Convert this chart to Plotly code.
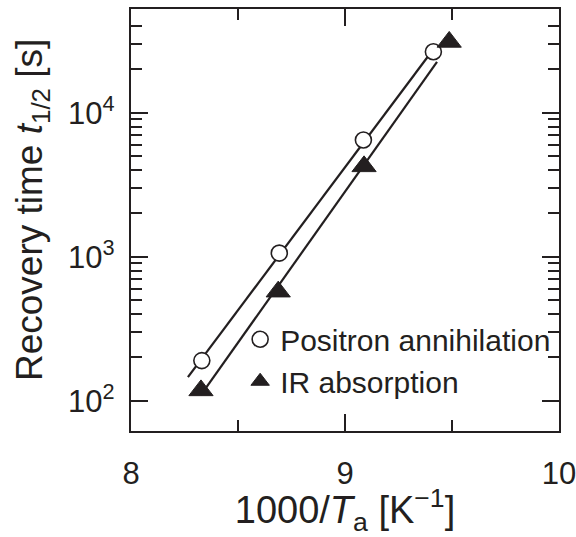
import numpy as np
import plotly.graph_objects as go

# Recovery times after annealing, plotted against inverse annealing temperature
x_positron = [8.331, 8.693, 9.086, 9.413]
t_positron = [190, 1060, 6460, 26500]

x_ir = [8.327, 8.688, 9.089, 9.487]
t_ir = [118, 572, 4240, 31000]

# x-extent of each Arrhenius fit line
fit_range_positron = [8.266, 9.413]
fit_range_ir = [8.327, 9.43]

x_major = [8, 9, 10]
x_minor = [8.5, 9.5]
y_major = [100, 1000, 10000]
y_minor = [m * d for d in (100, 1000) for m in range(2, 10)] + [20000, 30000, 40000]

INK = "#231f20"
FONT = "Liberation Sans, Arial, sans-serif"


def fit_line(xs, ts, xr):
    k, b = np.polyfit(xs, np.log10(ts), 1)
    xf = np.array(xr)
    return xf, 10 ** (k * xf + b)


fig = go.Figure()

for xs, ts, xr in ((x_positron, t_positron, fit_range_positron),
                   (x_ir, t_ir, fit_range_ir)):
    xf, tf = fit_line(xs, ts, xr)
    fig.add_trace(go.Scatter(x=xf, y=tf, mode="lines", showlegend=False,
                             line=dict(color=INK, width=2.2), hoverinfo="skip"))

fig.add_trace(go.Scatter(
    x=x_positron, y=t_positron, mode="markers", name="Positron annihilation",
    marker=dict(symbol="circle", size=16, color="white",
                line=dict(color=INK, width=1.6))))
fig.add_trace(go.Scatter(
    x=x_ir, y=t_ir, mode="markers", name="IR absorption",
    marker=dict(symbol="triangle-up", size=21, color=INK,
                line=dict(color=INK, width=1))))

axis_common = dict(
    showline=True, linecolor=INK, linewidth=2.4, mirror="ticks",
    ticks="inside", tickcolor=INK, tickwidth=1.8, ticklen=17,
    showgrid=False, zeroline=False, automargin=False,
    ticklabeloverflow="allow",
    tickfont=dict(family=FONT, size=31, color=INK),
)

fig.update_xaxes(
    **axis_common, type="linear", range=[8, 10],
    tickmode="array", tickvals=x_major, ticktext=[str(v) for v in x_major],
    ticklabelstandoff=14,
    minor=dict(tickmode="array", tickvals=x_minor, ticks="inside",
               ticklen=11, tickwidth=1.8, tickcolor=INK),
    title=dict(text="1000/<i>T</i><sub>a</sub> [K<sup>\u22121</sup>]",
               font=dict(family=FONT, size=38, color=INK), standoff=27),
)
fig.update_yaxes(
    **axis_common, type="log", range=[1.790, 4.720],
    tickmode="array", tickvals=y_major,
    ticktext=["10<sup>2</sup>", "10<sup>3</sup>", "10<sup>4</sup>"],
    ticklabelstandoff=8,
    minor=dict(tickmode="array", tickvals=y_minor, ticks="inside",
               ticklen=11, tickwidth=1.8, tickcolor=INK),
)

# y-axis title placed as a rotated annotation
fig.add_annotation(
    text="Recovery time <i>t</i><sub>1/2</sub> [s]",
    xref="paper", yref="paper", x=-0.231, y=0.524,
    xanchor="center", yanchor="middle", textangle=-90, showarrow=False,
    font=dict(family=FONT, size=37, color=INK),
)

fig.update_layout(
    template="none",
    width=576, height=537,
    margin=dict(l=131, r=17, t=9, b=106),
    paper_bgcolor="white", plot_bgcolor="white",
    font=dict(family=FONT, color=INK),
    legend=dict(x=0.255, y=0.279, xanchor="left", yanchor="top",
                bgcolor="rgba(0,0,0,0)", borderwidth=0,
                font=dict(family=FONT, size=30, color=INK),
                itemwidth=30, tracegroupgap=0),
)

fig.write_html("out.html")
